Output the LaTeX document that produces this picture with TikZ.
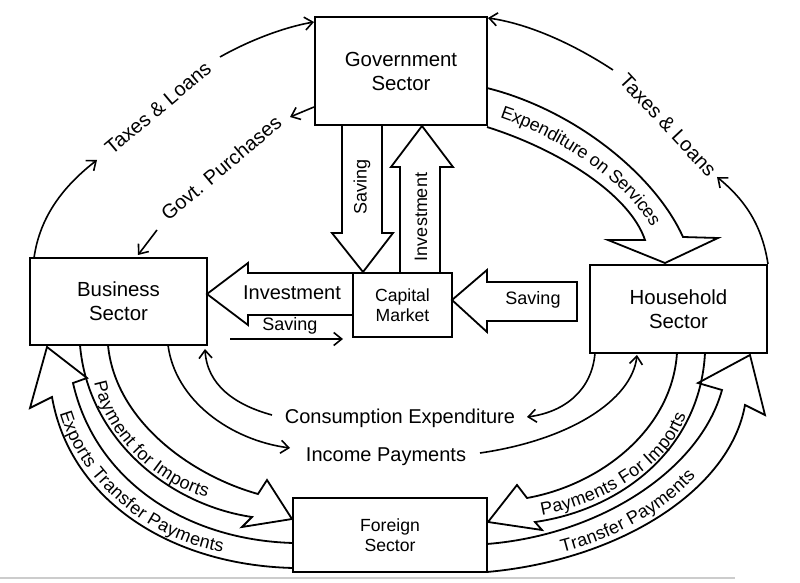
\documentclass[tikz,border=0pt]{standalone}
\usepackage{fontspec}
\setmainfont{Liberation Sans}
\usetikzlibrary{arrows.meta, decorations.text}
\newcommand{\bandfont}{\fontsize{9}{11}\selectfont}

\begin{document}
\begin{tikzpicture}[
  x=0.5pt, y=-0.5pt,
  every node/.style={font=\fontsize{10}{12}\selectfont},
  sector/.style={rectangle, draw, line width=1pt, align=center, inner sep=0pt,
              font=\fontsize{10.2}{12}\selectfont},
  smallsector/.style={sector, font=\fontsize{8.8}{10}\selectfont},
  band/.style={draw, line width=0.9pt, line join=miter},
  flow/.style={-{Straight Barb[length=4pt, width=6.5pt]}, line width=0.8pt},
  lbl/.style={inner sep=1pt},
  smalllbl/.style={lbl, font=\fontsize{9}{11}\selectfont},
  pathlbl/.style={decorate, decoration={text along path, text align=center, raise=-3.2pt}},
]
  \useasboundingbox (0,0) rectangle (800,583);

  % ═══ Sectors ═══
  \node[sector, minimum width=86pt, minimum height=54pt] at (401,71) (gov) {Government\\Sector};
  \node[sector, minimum width=88.5pt, minimum height=43.5pt] at (118.5,301.5) (bus) {Business\\Sector};
  \node[sector, minimum width=88.5pt, minimum height=44pt] at (678.5,309) (hh) {Household\\Sector};
  \node[smallsector, minimum width=49.5pt, minimum height=32pt] at (402.5,305) (cap) {Capital\\Market};
  \node[smallsector, minimum width=97pt, minimum height=37pt] at (390,535) (frn) {Foreign\\Sector};

  % ═══ Capital market block arrows ═══
  \draw[band] (342,125) -- (342,233) -- (332,233) -- (363,272) -- (393,233) -- (382,233) -- (382,125);
  \node[smalllbl, rotate=90] at (362,187) (savgov) {Saving};
  \draw[band] (400,273) -- (400,167) -- (391,167) -- (422,126) -- (453,167) -- (440,167) -- (440,273);
  \node[smalllbl, rotate=90] at (421,217) (invgov) {Investment};
  \draw[band] (353,273) -- (248,273) -- (248,263) -- (207,294) -- (248,325) -- (248,315) -- (353,315);
  \node[lbl] at (292,293) (invbus) {Investment};
  \draw[band] (577,282) -- (487,282) -- (487,270) -- (452,300) -- (487,332) -- (487,321) -- (577,321) -- cycle;
  \node[smalllbl] at (533,300) (savhh) {Saving};
  \coordinate (savstart) at (230,339);
  \draw[flow] (savstart) -- (343,339);
  \node[smalllbl] at (290,326) (savbus) {Saving};

  % ═══ Government flows ═══
  \draw[band] (487,88) .. controls (575,110) and (655,175) .. (683,237) -- (718,238) -- (665,263)
    -- (608,240) -- (645,240) .. controls (630,195) and (560,150) .. (487,127);
  \path[pathlbl, decoration={text={|\bandfont|Expenditure on Services}}]
    (487,107) .. controls (567,130) and (642,185) .. (664,238);

  \draw[flow] (34,258) .. controls (40,215) and (65,185) .. (97,160);
  \node[lbl, rotate=40] at (158,108) (taxl) {Taxes \& Loans};
  \draw[flow] (220,57) .. controls (250,40) and (285,27) .. (gov.north west |- 0,22);

  \draw[flow] (hh.north east) .. controls (762,225) and (745,200) .. (717,177);
  \node[lbl, rotate=-47] at (668,125) (taxr) {Taxes \& Loans};
  \draw[flow] (613,70) .. controls (575,45) and (530,24) .. (gov.north east |- 0,18);

  \draw[flow] (gov.west |- 0,107) -- (290,117);
  \node[lbl, rotate=40] at (221,168) (purch) {Govt. Purchases};
  \draw[flow] (157,230) -- (138,255);

  % ═══ Household <-> Business ═══
  \draw[flow] (595,353) .. controls (592,390) and (565,412) .. (527,417);
  \node[lbl] at (400,418) (cons) {Consumption Expenditure};
  \draw[flow] (272,415) .. controls (235,405) and (207,385) .. (205,349);

  \draw[flow] (168,345) .. controls (175,400) and (230,440) .. (290,448);
  \node[lbl] at (386,457) (inc) {Income Payments};
  \draw[flow] (480,453) .. controls (570,440) and (632,400) .. (637,355);

  % ═══ Foreign sector bands ═══
  \draw[band] (108,345) .. controls (115,420) and (190,475) .. (258,494) -- (267,480) -- (292,519)
    -- (242,527) -- (252,517) .. controls (170,505) and (88,440) .. (80,345);
  \path[pathlbl, decoration={text={|\bandfont|Payment for Imports}}]
    (100,378) .. controls (108,430) and (160,480) .. (212,492);

  \draw[band] (293,543) .. controls (185,540) and (95,480) .. (73,383) -- (87,378) -- (47,347)
    -- (30,408) -- (52,397) .. controls (70,500) and (170,565) .. (293,568);
  \path[pathlbl, decoration={text={|\bandfont|Exports  Transfer Payments}}]
    (63,400) .. controls (80,480) and (160,540) .. (235,547);

  \draw[band] (677,353) .. controls (672,430) and (600,485) .. (527,498) -- (517,485) -- (488,522)
    -- (542,530) -- (535,522) .. controls (620,510) and (700,450) .. (705,353);
  \path[pathlbl, decoration={text={|\bandfont|Payments For Imports}}]
    (533,510) .. controls (600,500) and (670,460) .. (682,405);

  \draw[band] (487,544) .. controls (600,535) and (700,470) .. (722,390) -- (698,383) -- (750,355)
    -- (765,415) -- (745,405) .. controls (730,490) and (620,560) .. (487,572);
  \path[pathlbl, decoration={text={|\bandfont|Transfer Payments}}]
    (552,548) .. controls (610,535) and (665,505) .. (697,465);

  % page edge rule
  \draw[black!20, line width=0.8pt] (0,578) -- (735,578);
\end{tikzpicture}
\end{document}
